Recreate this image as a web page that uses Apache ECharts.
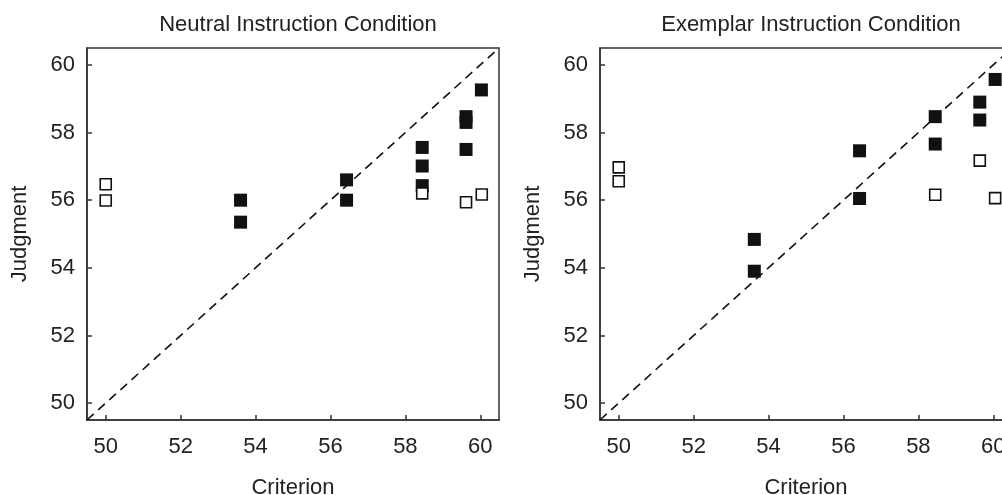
<!DOCTYPE html>
<html>
<head>
<meta charset="utf-8">
<script src="https://cdn.jsdelivr.net/npm/echarts@6/dist/echarts.min.js"></script>
<style>
html,body{margin:0;padding:0;background:#fff;}
#chart{width:1002px;height:495px;}
</style>
</head>
<body>
<div id="chart"></div>
<script>
// ---- Data ----
const panelTitles = ['Neutral Instruction Condition', 'Exemplar Instruction Condition'];
const xAxisName = 'Criterion';
const yAxisName = 'Judgment';
const tickValues = [50, 52, 54, 56, 58, 60];
const axisRange = [49.5, 60.5];

// [criterion, judgment]
const neutralFilled = [[53.6, 56.0], [53.6, 55.35], [56.43, 56.6], [56.43, 56.0], [58.45, 57.56], [58.45, 57.01], [58.45, 56.43], [59.62, 58.47], [59.62, 58.3], [59.62, 57.5], [60.03, 59.26]];
const neutralOpen = [[50.0, 56.47], [50.0, 55.99], [58.45, 56.2], [59.62, 55.94], [60.04, 56.17]];
const exemplarFilled = [[53.62, 54.84], [53.62, 53.9], [56.43, 57.46], [56.43, 56.05], [58.45, 58.47], [58.45, 57.66], [59.64, 58.9], [59.64, 58.37], [60.05, 59.57]];
const exemplarOpen = [[50.0, 56.97], [50.0, 56.56], [58.45, 56.16], [59.64, 57.17], [60.05, 56.06]];
const identityLine = [[49.5, 49.5], [60.5, 60.5]];

// ---- Chart ----
const FONT = '"Liberation Sans", Arial, Helvetica, sans-serif';
const TXT = '#222';
const AX = '#333';
const FS = 22;
const chart = echarts.init(document.getElementById('chart'), null, {renderer: 'canvas'});

const grids = [
  {left: 87, top: 48, width: 412, height: 372},
  {left: 600, top: 48, width: 412, height: 372}
];
const centers = [293, 806];

function xAxisFor(i) {
  return {
    type: 'value', gridIndex: i, min: axisRange[0], max: axisRange[1],
    name: xAxisName, nameLocation: 'middle', nameGap: 57,
    nameTextStyle: {fontFamily: FONT, fontSize: FS, color: TXT},
    axisLine: {show: true, onZero: false, lineStyle: {color: AX, width: 1.5}},
    axisTick: {show: true, inside: true, length: 5, customValues: tickValues, lineStyle: {color: AX, width: 1.5}},
    axisLabel: {show: true, customValues: tickValues, margin: 16, fontFamily: FONT, fontSize: FS, color: TXT},
    splitLine: {show: false}
  };
}
function yAxisFor(i) {
  return {
    type: 'value', gridIndex: i, min: axisRange[0], max: axisRange[1],
    name: yAxisName, nameLocation: 'middle', nameGap: 56,
    nameTextStyle: {fontFamily: FONT, fontSize: FS, color: TXT},
    axisLine: {show: true, onZero: false, lineStyle: {color: AX, width: 1.5}},
    axisTick: {show: true, inside: true, length: 5, customValues: tickValues, lineStyle: {color: AX, width: 1.5}},
    axisLabel: {show: true, customValues: tickValues, margin: 12, fontFamily: FONT, fontSize: FS, color: TXT},
    splitLine: {show: false}
  };
}

function seriesFor(i, filled, open) {
  return [
    {
      type: 'line', xAxisIndex: i, yAxisIndex: i, data: identityLine,
      symbol: 'none', silent: true,
      lineStyle: {color: '#111', width: 1.6, type: [9, 6]}, z: 1
    },
    {
      type: 'scatter', xAxisIndex: i, yAxisIndex: i, data: filled,
      symbol: 'rect', symbolSize: 13,
      itemStyle: {color: '#111', opacity: 1}, z: 2
    },
    {
      type: 'scatter', xAxisIndex: i, yAxisIndex: i, data: open,
      symbol: 'rect', symbolSize: 11,
      itemStyle: {color: '#fff', borderColor: '#111', borderWidth: 1.6, opacity: 1}, z: 3
    }
  ];
}

const option = {
  backgroundColor: '#fff',
  animation: false,
  title: panelTitles.map((t, i) => ({
    text: t,
    left: centers[i],
    textAlign: 'center',
    top: 9,
    textStyle: {fontFamily: FONT, fontSize: FS, fontWeight: 'normal', color: TXT}
  })),
  grid: grids.map(g => Object.assign({show: true, borderColor: AX, borderWidth: 1.5, backgroundColor: 'transparent', containLabel: false, outerBoundsMode: 'none'}, g)),
  xAxis: [xAxisFor(0), xAxisFor(1)],
  yAxis: [yAxisFor(0), yAxisFor(1)],
  series: [].concat(seriesFor(0, neutralFilled, neutralOpen), seriesFor(1, exemplarFilled, exemplarOpen))
};
chart.setOption(option);
</script>
</body>
</html>
